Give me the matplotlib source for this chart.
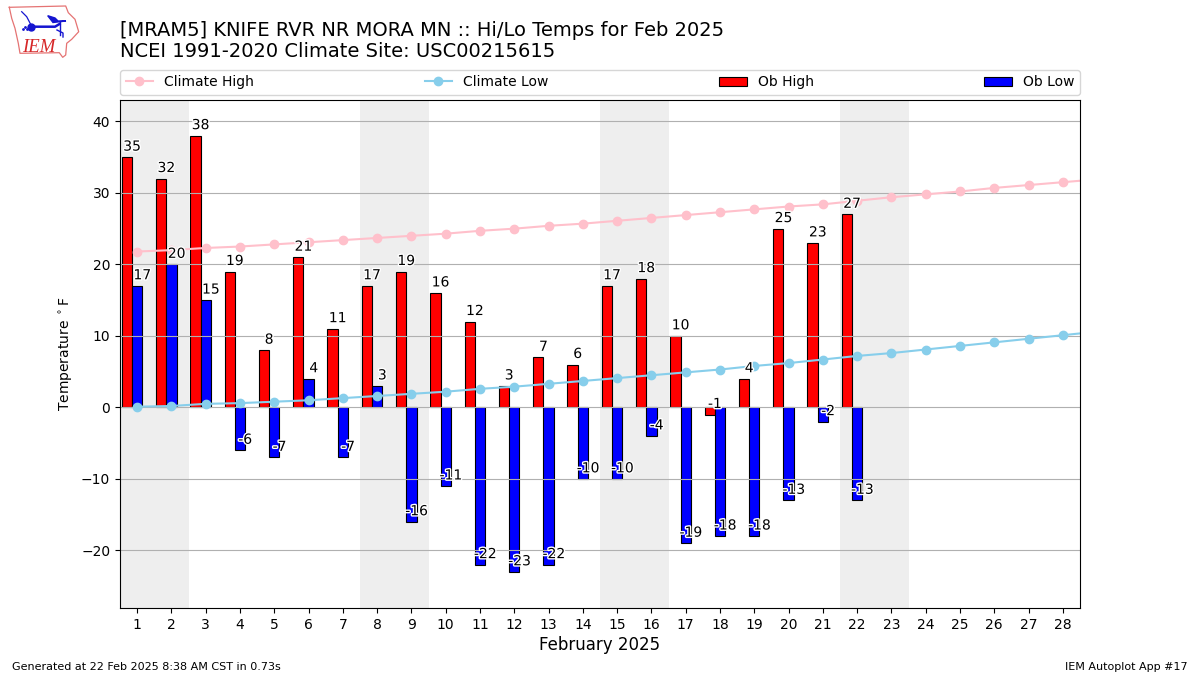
"""Daily hi/lo temps against climatology, IEM autoplot style."""
import matplotlib
matplotlib.use("Agg")
import matplotlib.patheffects as PathEffects
import matplotlib.pyplot as plt
import numpy as np

days = list(range(1, 29))
ob_high = [35, 32, 38, 19, 8, 21, 11, 17, 19, 16, 12, 3, 7, 6, 17, 18, 10, -1, 4, 25, 23, 27]
ob_low = [17, 20, 15, -6, -7, 4, -7, 3, -16, -11, -22, -23, -22, -10, -10, -4, -19, -18, -18, -13, -2, -13]
# climatology also has a leap day, it runs off the right edge
climate_high = [21.8, 22.0, 22.3, 22.5, 22.8, 23.1, 23.4, 23.7, 24.0, 24.3, 24.7, 25.0, 25.4, 25.7, 26.1,
                26.5, 26.9, 27.3, 27.7, 28.1, 28.4, 28.9, 29.4, 29.8, 30.2, 30.7, 31.1, 31.5, 31.9]
climate_low = [0.1, 0.2, 0.5, 0.6, 0.8, 1.0, 1.3, 1.6, 1.9, 2.2, 2.6, 2.9, 3.3, 3.7, 4.1,
               4.5, 4.9, 5.3, 5.8, 6.2, 6.7, 7.2, 7.6, 8.1, 8.6, 9.1, 9.6, 10.1, 10.6]
weekends = [(0.5, 2.5), (7.5, 9.5), (14.5, 16.5), (21.5, 23.5)]

title = "[MRAM5] KNIFE RVR NR MORA MN :: Hi/Lo Temps for Feb 2025\nNCEI 1991-2020 Climate Site: USC00215615"
footer_left = "Generated at 22 Feb 2025 8:38 AM CST in 0.73s"
footer_right = "IEM Autoplot App #17"

fig = plt.figure(figsize=(12, 6.75), dpi=100)

# logo, drawn in pixel coordinates
logo = fig.add_axes([0, 0, 1, 1], zorder=0)
logo.set_xlim(0, 1200)
logo.set_ylim(675, 0)
logo.axis("off")
iowa_x = [9.3, 65.7, 68.3, 75, 78.7, 71.7, 66.7, 65.7, 62.7, 59.3, 20, 18.3, 15, 11.7, 9.3]
iowa_y = [7.3, 6, 12.7, 19.3, 31.7, 39.3, 43.3, 55, 57.3, 52.7, 53.3, 43.3, 28.3, 18.3, 7.3]
logo.plot(iowa_x, iowa_y, color="#e57373", lw=0.9)
logo.plot([31, 55, 59.5], [26.7, 26.7, 24], color="#1515d0", lw=1.8)
logo.plot([31], [26.7], "o", color="#1515d0", ms=5)
logo.plot([21.7, 26.7, 31], [11.7, 16.7, 25], color="#1515d0", lw=0.9)
logo.fill([47.7, 55, 58, 66, 53], [15.7, 18, 21, 21, 22.5], color="#1515d0")
logo.plot([59.5, 59.5], [21, 35], color="#1515d0", lw=1)
logo.plot([57, 63, 63], [30, 33, 37], color="#1515d0", lw=1)
logo.plot([23, 25, 27], [29, 27, 29], ".", color="#1515d0", ms=2)
logo.text(22.5, 52, "IEM", family="Liberation Serif", style="italic", fontsize=13.5, color="#d62728")

ax = fig.add_axes([0.1, 0.0993, 0.8, 0.7526], zorder=1)
for start, end in weekends:
    ax.axvspan(start, end, color="#eeeeee", lw=0, zorder=0)

ax.plot(range(1, 30), climate_high, marker="o", color="pink", label="Climate High")
ax.plot(range(1, 30), climate_low, marker="o", color="skyblue", label="Climate Low")

x = np.arange(1, len(ob_high) + 1)
ax.bar(x - 0.3, ob_high, width=0.3, color="r", edgecolor="k", linewidth=0.8, label="Ob High", zorder=1.5)
ax.bar(x, ob_low, width=0.3, color="b", edgecolor="k", linewidth=0.8, label="Ob Low", zorder=1.5)

stroke = [PathEffects.withStroke(linewidth=2, foreground="white")]
for day, val in zip(x, ob_high):
    ax.text(day - 0.15, val + 0.5, str(val), ha="center", va="bottom", fontsize=10, path_effects=stroke, zorder=5)
for day, val in zip(x, ob_low):
    ax.text(day + 0.15, val + 0.5, str(val), ha="center", va="bottom", fontsize=10, path_effects=stroke, zorder=5)

ax.set_xlim(0.5, 28.5)
ax.set_ylim(-28.05, 43)
ax.set_xticks(days)
ax.set_yticks(range(-20, 41, 10))
ax.grid(True, axis="y")
ax.set_ylabel(r"Temperature $^\circ$F")
ax.set_xlabel("February 2025", fontsize=12, labelpad=3)
ax.legend(loc="lower left", bbox_to_anchor=(0, 1.01, 1, 0.05), mode="expand", ncol=4, borderaxespad=0)

fig.text(0.1, 0.9098, title, fontsize=14, va="bottom", ha="left", linespacing=1.15)
fig.text(0.01, 0.005, footer_left, fontsize=8, va="bottom", ha="left")
fig.text(0.99, 0.005, footer_right, fontsize=8, va="bottom", ha="right")

fig.savefig("out.png", dpi=100)
